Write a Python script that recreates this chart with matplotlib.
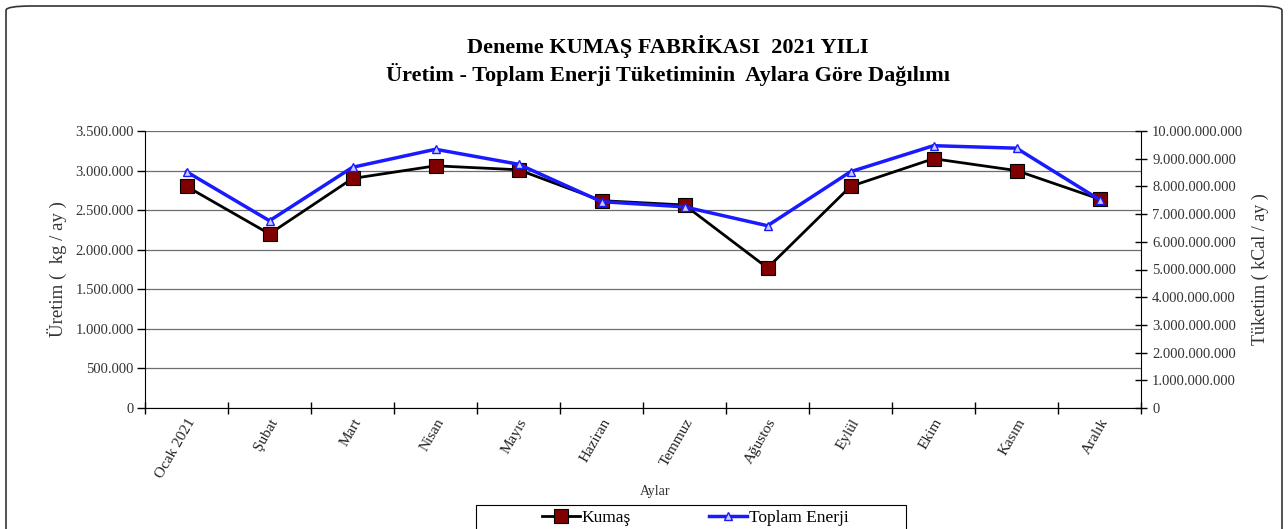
import matplotlib
matplotlib.use('Agg')
import matplotlib.pyplot as plt
from matplotlib.patches import FancyBboxPatch, Rectangle
from matplotlib.ticker import FuncFormatter, MultipleLocator

# veriler
aylar = ['Ocak 2021', 'Şubat', 'Mart', 'Nisan', 'Mayıs', 'Haziran',
         'Temmuz', 'Ağustos', 'Eylül', 'Ekim', 'Kasım', 'Aralık']
kumas = [2800000, 2200000, 2900000, 3060000, 3010000, 2620000,
         2565000, 1770000, 2800000, 3150000, 3000000, 2640000]
enerji = [8.53e9, 6.76e9, 8.69e9, 9.34e9, 8.80e9, 7.45e9,
          7.26e9, 6.58e9, 8.53e9, 9.47e9, 9.38e9, 7.52e9]

plt.rcParams['font.family'] = ['Liberation Serif', 'DejaVu Serif']

def nokta(v, pos):
    return f'{int(round(v)):,}'.replace(',', '.')

fig = plt.figure(figsize=(12.88, 5.29), dpi=100)
ax = fig.add_axes([145/1288, 1-408/529, 996/1288, 277/529])
ax2 = ax.twinx()

x = list(range(len(aylar)))
l1, = ax.plot(x, kumas, color='black', lw=2, marker='s', ms=9.5,
              mfc='#800000', mec='black', mew=0.8, zorder=3)
l2, = ax2.plot(x, enerji, color='#1a1aff', lw=2.5, marker='^', ms=6,
               mfc='#ccccff', mec='#1a1aff', mew=1, zorder=4)

ax.set_xlim(-0.5, len(aylar)-0.5)
ax.set_ylim(0, 3500000)
ax2.set_ylim(0, 10e9)
ax.yaxis.set_major_locator(MultipleLocator(500000))
ax2.yaxis.set_major_locator(MultipleLocator(1e9))
ax.yaxis.set_major_formatter(FuncFormatter(nokta))
ax2.yaxis.set_major_formatter(FuncFormatter(nokta))

ax.set_xticks([i - 0.5 for i in range(len(aylar)+1)])
ax.set_xticklabels([])
ax.set_xticks(x, minor=True)
ax.set_xticklabels(aylar, minor=True, rotation=60, ha='right',
                   rotation_mode='anchor', fontsize=11, color='#222222')
ax.tick_params(axis='x', which='minor', length=0, pad=6)
ax.tick_params(axis='x', which='major', direction='inout', length=8, width=1)
ax.tick_params(axis='y', direction='out', length=6, width=1, pad=2,
               labelsize=10.5, labelcolor='#333333')
ax2.tick_params(axis='y', direction='inout', length=8, width=1, pad=4,
                labelsize=10.5, labelcolor='#333333')

ax.grid(axis='y', color='#6e6e6e', lw=0.9)
ax.set_axisbelow(True)
for a in (ax, ax2):
    a.spines['top'].set_visible(False)
    a.patch.set_visible(False)
ax.spines['right'].set_visible(False)
ax2.spines['left'].set_visible(False)
ax2.spines['bottom'].set_visible(False)

ax.set_ylabel('Üretim (  kg / ay )', fontsize=13.5, color='#333333', labelpad=6)
ax2.set_ylabel('Tüketim ( kCal / ay )', fontsize=13, color='#333333', labelpad=6)
fig.text(655/1288, 1-491/529, 'Aylar', ha='center', va='center',
         fontsize=10, color='#333333')

fig.text(668/1288, 1-47/529, 'Deneme KUMAŞ FABRİKASI  2021 YILI',
         ha='center', va='center', fontsize=16, fontweight='bold')
fig.text(668/1288, 1-75/529, 'Üretim - Toplam Enerji Tüketiminin  Aylara Göre Dağılımı',
         ha='center', va='center', fontsize=16, fontweight='bold')

# lejant çerçevesi
fig.patches.append(Rectangle((476/1288, -0.05), 430/1288, 1-505/529+0.05,
                             transform=fig.transFigure, fill=False,
                             edgecolor='black', lw=0.8))
fig.legend([l1, l2], ['Kumaş', 'Toplam Enerji'], ncol=2,
           loc='upper center', bbox_to_anchor=(695/1288, 1-510/529),
           fontsize=12.5, frameon=False, handlelength=2.2,
           handletextpad=0.1, columnspacing=4.5, borderpad=0,
           borderaxespad=0)

frame = FancyBboxPatch((6/1288, -0.1), 1276/1288, 1.1 - 6/529,
                       boxstyle='round,pad=0,rounding_size=0.02',
                       transform=fig.transFigure, fill=False,
                       edgecolor='#333333', lw=1.2, mutation_aspect=529/1288)
fig.patches.append(frame)

fig.savefig('out.png', dpi=100)
